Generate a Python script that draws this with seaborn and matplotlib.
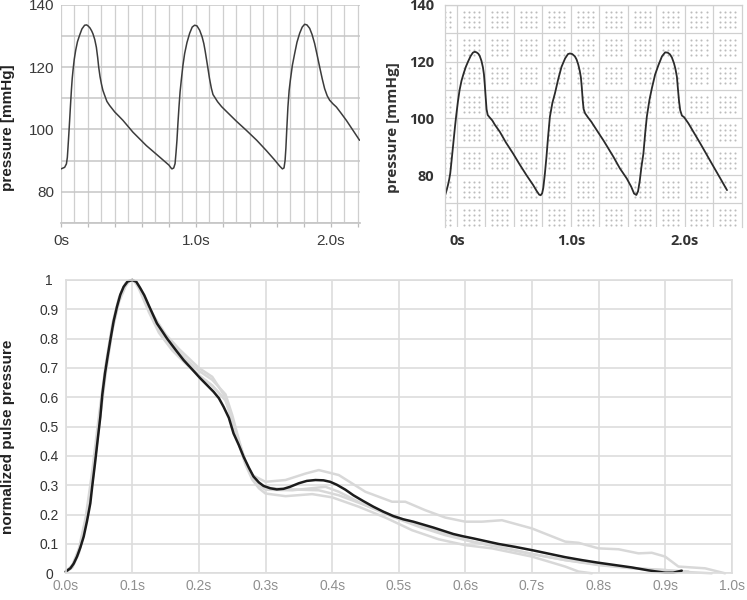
import numpy as np
import pandas as pd
import matplotlib.pyplot as plt
import seaborn as sns

# ---- datos ----
# panel arriba izquierda: presion arterial (s, mmHg)
left_t = [0.0, 0.027, 0.04, 0.047, 0.052, 0.058, 0.064, 0.07, 0.077, 0.083, 0.089, 0.098, 0.109,
          0.122, 0.138, 0.155, 0.175, 0.19, 0.2, 0.215, 0.228, 0.237, 0.25, 0.262, 0.272, 0.279,
          0.289, 0.299, 0.31, 0.323, 0.34, 0.36, 0.38, 0.398, 0.43, 0.459, 0.533, 0.632, 0.731,
          0.8, 0.815, 0.822,
          0.835, 0.845, 0.852, 0.859, 0.866, 0.874, 0.882, 0.891, 0.903, 0.916, 0.933, 0.953,
          0.972, 0.99, 1.007, 1.027, 1.045, 1.058, 1.068, 1.078, 1.089, 1.1, 1.114, 1.126, 1.138,
          1.16, 1.19, 1.225, 1.3, 1.373, 1.45, 1.521, 1.58, 1.62, 1.64,
          1.652, 1.66, 1.666, 1.672, 1.681, 1.69, 1.699, 1.714, 1.731, 1.748, 1.768, 1.787, 1.805,
          1.822, 1.842, 1.86, 1.879, 1.897, 1.916, 1.935, 1.953, 1.972, 1.99, 2.015, 2.04, 2.075,
          2.114, 2.16, 2.212]
left_p = [87.3, 87.8, 88.9, 91.0, 94.3, 98.5, 102.9, 107.5, 112.6, 116.3, 119.0, 122.5, 125.5,
          128.2, 130.3, 132.3, 133.5, 133.6, 133.3, 132.6, 131.6, 130.7, 128.9, 126.4, 123.0, 120.1,
          117.0, 114.7, 112.6, 111.0, 109.0, 107.7, 106.6, 105.6, 104.2, 102.9, 99.1, 94.8, 91.1,
          88.5, 87.6, 87.3,
          87.6, 89.0, 92.5, 96.5, 101.8, 107.2, 112.0, 115.8, 120.5, 124.4, 127.9, 130.9,
          132.9, 133.5, 133.3, 131.9, 129.8, 127.6, 125.2, 122.5, 119.5, 116.4, 113.2, 111.2, 110.4,
          108.9, 107.3, 105.8, 102.6, 99.7, 96.5, 93.2, 90.3, 88.2, 87.3,
          87.6, 90.0, 94.0, 99.5, 107.2, 112.5, 115.8, 120.6, 124.4, 128.0, 130.9, 132.9, 133.8,
          133.6, 132.5, 130.5, 127.6, 124.0, 120.1, 116.3, 113.1, 110.8, 109.4, 108.2, 107.2, 105.2,
          102.9, 99.9, 96.5]

# panel arriba derecha
right_t = [-0.103, -0.09, -0.079, -0.068, -0.059, -0.045, -0.029, -0.017, -0.006, 0.008, 0.023,
           0.04, 0.059, 0.078, 0.097, 0.12, 0.14, 0.156, 0.172, 0.188, 0.2, 0.215, 0.228, 0.237,
           0.245, 0.252, 0.26, 0.27, 0.288, 0.31, 0.332, 0.376, 0.43, 0.493, 0.55, 0.61, 0.669,
           0.7, 0.722, 0.735,
           0.748, 0.758, 0.772, 0.786, 0.8, 0.816, 0.838, 0.86, 0.89, 0.918, 0.95, 0.975, 0.992,
           1.012, 1.035, 1.05, 1.065, 1.078, 1.088, 1.096, 1.104, 1.112, 1.125, 1.153, 1.18, 1.212,
           1.29, 1.373, 1.43, 1.491, 1.53, 1.555, 1.575,
           1.59, 1.605, 1.62, 1.637, 1.652, 1.667, 1.69, 1.711, 1.74, 1.769, 1.8, 1.828, 1.85,
           1.87, 1.887, 1.905, 1.918, 1.931, 1.94, 1.95, 1.96, 1.975, 1.995, 2.033, 2.08, 2.136,
           2.2, 2.254, 2.31, 2.371]
right_p = [73.0, 74.8, 76.5, 78.5, 80.6, 86.0, 92.4, 97.2, 101.2, 105.8, 110.0,
           113.3, 115.9, 118.2, 120.0, 122.0, 123.2, 123.5, 123.3, 122.8, 122.0, 120.3, 118.0, 115.5,
           111.5, 107.5, 103.2, 101.2, 100.3, 99.3, 97.8, 95.3, 91.5, 87.6, 83.8, 80.0, 76.5,
           74.4, 73.1, 72.9,
           73.6, 75.5, 80.5, 86.5, 93.5, 100.6, 105.5, 108.8, 114.0, 118.2, 121.2, 122.7, 122.9,
           122.7, 121.9, 120.8, 119.0, 116.8, 114.5, 111.0, 106.5, 103.3, 101.8, 100.2, 98.8, 96.8,
           92.0, 86.5, 82.4, 78.8, 75.9, 73.5, 73.0,
           74.3, 78.0, 83.0, 87.6, 94.5, 100.6, 106.5, 110.6, 115.5, 118.8, 121.9, 123.3, 123.2,
           122.6, 121.5, 119.5, 117.5, 114.7, 110.5, 106.0, 102.9, 101.0, 100.4, 98.2, 95.0, 91.2,
           86.7, 82.9, 79.0, 74.7]

# panel inferior: presion de pulso normalizada
black_t = [0.0, 0.007, 0.012, 0.017, 0.022, 0.027, 0.032, 0.037, 0.04, 0.044, 0.048, 0.052, 0.055,
           0.059, 0.063, 0.067, 0.072, 0.077, 0.082, 0.087, 0.093, 0.1, 0.106, 0.112, 0.118, 0.125,
           0.137, 0.145, 0.152, 0.165, 0.177, 0.19, 0.202, 0.212, 0.222, 0.23, 0.237, 0.245, 0.252,
           0.26, 0.267, 0.275, 0.282, 0.29, 0.297, 0.307, 0.317, 0.327, 0.337, 0.35, 0.362, 0.375,
           0.387, 0.397, 0.407, 0.42, 0.432, 0.447, 0.462, 0.477, 0.492, 0.507, 0.522, 0.537,
           0.552, 0.567, 0.582, 0.597, 0.612, 0.63, 0.65, 0.675, 0.7, 0.725, 0.75, 0.775, 0.8,
           0.825, 0.85, 0.875, 0.9, 0.912, 0.925]
black_v = [0.006, 0.017, 0.033, 0.057, 0.088, 0.125, 0.178, 0.239, 0.3, 0.375, 0.455, 0.534,
           0.61, 0.682, 0.74, 0.795, 0.86, 0.909, 0.95, 0.977, 0.995, 1.0, 0.994, 0.972, 0.948,
           0.912, 0.852, 0.825, 0.801, 0.762, 0.727, 0.695, 0.665, 0.642, 0.619, 0.597, 0.568, 0.53,
           0.477, 0.437, 0.398, 0.36, 0.33, 0.31, 0.298, 0.29, 0.286, 0.288, 0.295, 0.307, 0.315,
           0.318, 0.317, 0.312, 0.302, 0.285, 0.266, 0.246, 0.227, 0.21, 0.195, 0.184, 0.176,
           0.166, 0.156, 0.145, 0.134, 0.126, 0.119, 0.11, 0.1, 0.09, 0.079, 0.067, 0.055, 0.045,
           0.036, 0.028, 0.02, 0.01, 0.002, 0.002, 0.009]

g1_t = [0.0, 0.01, 0.02, 0.03, 0.04, 0.05, 0.06, 0.07, 0.08, 0.09, 0.095, 0.1, 0.105, 0.11, 0.13,
        0.15, 0.17, 0.2, 0.22, 0.24, 0.25, 0.26, 0.27, 0.28, 0.3, 0.33, 0.36, 0.38, 0.41, 0.45,
        0.49, 0.51, 0.54, 0.57, 0.6, 0.625, 0.655, 0.7, 0.75, 0.77, 0.8, 0.83, 0.86, 0.88, 0.9,
        0.92, 0.96, 0.99]
g1_v = [0.004, 0.022, 0.075, 0.17, 0.31, 0.51, 0.69, 0.83, 0.925, 0.98, 0.995, 1.0, 0.993, 0.975,
        0.885, 0.815, 0.765, 0.7, 0.67, 0.6, 0.53, 0.45, 0.38, 0.335, 0.312, 0.318, 0.34,
        0.352, 0.335, 0.278, 0.244, 0.244, 0.215, 0.19, 0.176, 0.176, 0.181, 0.153, 0.108, 0.104,
        0.085, 0.082, 0.068, 0.07, 0.057, 0.023, 0.017, 0.0]

g2_t = [0.0, 0.01, 0.02, 0.03, 0.04, 0.05, 0.06, 0.07, 0.08, 0.09, 0.095, 0.1, 0.105, 0.11, 0.125,
        0.14, 0.16, 0.18, 0.2, 0.22, 0.24, 0.25, 0.26, 0.27, 0.28, 0.29, 0.3, 0.34, 0.39, 0.41,
        0.45, 0.49, 0.53, 0.57, 0.61, 0.64, 0.7, 0.75, 0.8, 0.85, 0.9, 0.935]
g2_v = [0.005, 0.025, 0.08, 0.18, 0.33, 0.52, 0.70, 0.84, 0.935, 0.985, 0.996, 1.0, 0.993, 0.975,
        0.9, 0.83, 0.77, 0.72, 0.675, 0.64, 0.59, 0.525, 0.445, 0.375, 0.33, 0.3, 0.285, 0.283,
        0.295, 0.278, 0.232, 0.193, 0.159, 0.13, 0.108, 0.096, 0.066, 0.045, 0.03, 0.018, 0.011,
        0.006]

g3_t = [0.0, 0.01, 0.02, 0.03, 0.04, 0.05, 0.06, 0.07, 0.08, 0.09, 0.095, 0.1, 0.105, 0.11, 0.125,
        0.14, 0.16, 0.18, 0.2, 0.22, 0.24, 0.25, 0.26, 0.27, 0.28, 0.29, 0.3, 0.33, 0.37, 0.4,
        0.44, 0.48, 0.52, 0.56, 0.6, 0.64, 0.7, 0.75, 0.77, 0.79]
g3_v = [0.004, 0.02, 0.07, 0.165, 0.31, 0.5, 0.68, 0.83, 0.93, 0.98, 0.995, 1.0, 0.99, 0.97, 0.89,
        0.82, 0.76, 0.715, 0.675, 0.64, 0.59, 0.52, 0.44, 0.37, 0.32, 0.29, 0.272, 0.263, 0.27,
        0.259, 0.227, 0.19, 0.147, 0.116, 0.096, 0.085, 0.057, 0.023, 0.006, 0.0]

g4_t = [0.0, 0.01, 0.02, 0.03, 0.04, 0.05, 0.06, 0.07, 0.08, 0.09, 0.095, 0.1, 0.105, 0.11, 0.125,
        0.14, 0.16, 0.18, 0.2, 0.22, 0.24, 0.25, 0.26, 0.27, 0.28, 0.29, 0.3, 0.34, 0.38, 0.41,
        0.45, 0.49, 0.53, 0.57, 0.61, 0.7, 0.75, 0.8, 0.85, 0.9, 0.92, 0.97]
g4_v = [0.006, 0.028, 0.085, 0.19, 0.35, 0.54, 0.71, 0.85, 0.94, 0.99, 0.998, 1.0, 0.995, 0.98,
        0.91, 0.84, 0.78, 0.73, 0.69, 0.66, 0.61, 0.54, 0.455, 0.38, 0.335, 0.305, 0.292, 0.286,
        0.283, 0.266, 0.232, 0.198, 0.164, 0.136, 0.108, 0.066, 0.045, 0.028, 0.017, 0.011, 0.006,
        0.0]

# ---- estilo ----
sns.set_theme(style="white")
plt.rcParams['font.family'] = ['Liberation Sans', 'DejaVu Sans']
plt.rcParams['lines.solid_joinstyle'] = 'round'

fig = plt.figure(figsize=(7.47, 6.0), dpi=100)
ax1 = fig.add_axes([61 / 747, 1 - 222.7 / 600, 299 / 747, 217.7 / 600])
ax2 = fig.add_axes([445 / 747, 1 - 227 / 600, 296.7 / 747, 222 / 600])
ax3 = fig.add_axes([65.7 / 747, 1 - 573.3 / 600, 666 / 747, 293.3 / 600])

# ---- arriba izquierda ----
sns.lineplot(x=left_t, y=left_p, ax=ax1, color='#3c3c3c', lw=1.1, sort=False, estimator=None)
ax1.set_xlim(0, 2.215)
ax1.set_ylim(70, 140)
xt = [0.0, 0.2, 0.4, 0.6, 0.8, 1.0, 1.2, 1.4, 1.6, 1.8, 2.0, 2.2]
ax1.set_xticks(xt)
ax1.set_xticklabels(['0s' if v == 0 else ('1.0s' if v == 1.0 else ('2.0s' if v == 2.0 else ''))
                     for v in xt])
ax1.set_xticks(np.arange(0.1, 2.2, 0.2), minor=True)
ax1.set_yticks([80, 100, 120, 140])
ax1.set_yticks([70, 90, 110, 130], minor=True)
ax1.set_axisbelow(True)
ax1.grid(True, which='both', axis='x', color='#cfcfcf', lw=0.9)
ax1.grid(True, which='both', axis='y', color='#c6c6c6', lw=1.1)
ax1.tick_params(axis='x', which='major', length=3, width=0.9, color='#bbbbbb', pad=5,
                labelsize=11, labelcolor='#3a3a3a', bottom=True)
ax1.tick_params(axis='x', which='minor', length=0)
ax1.tick_params(axis='y', which='both', length=0, pad=5, labelsize=11, labelcolor='#3a3a3a')
for s in ['top', 'right', 'left']:
    ax1.spines[s].set_visible(False)
ax1.spines['bottom'].set_color('#c6c6c6')
ax1.set_xlabel('')
ax1.set_ylabel('pressure [mmHg]', fontsize=11, fontweight='bold', color='#222222')
ax1.yaxis.set_label_coords(-0.154, 0.437)

# ---- arriba derecha (papel punteado) ----
x0, x1, y0, y1 = -0.105, 2.5, 61.7, 140
dx = np.array([-0.066, -0.022, 0.022, 0.066])
dy = np.array([-2.65, -0.88, 0.88, 2.65])
dot_x = (np.arange(-0.125, 2.5, 0.25)[:, None] + dx).ravel()
dot_y = (np.arange(55, 140, 10)[:, None] + dy).ravel()
dot_x = dot_x[(dot_x > x0) & (dot_x < x1)]
dot_y = dot_y[(dot_y > y0) & (dot_y < y1)]
gx, gy = np.meshgrid(dot_x, dot_y)
ax2.scatter(gx.ravel(), gy.ravel(), s=2.2, color='#bcbcbc', lw=0, zorder=0)
sns.lineplot(x=right_t, y=right_p, ax=ax2, color='#2b2b2b', lw=1.3, sort=False, estimator=None)
ax2.set_xlim(x0, x1)
ax2.set_ylim(y0, y1)
ax2.set_xticks([0, 1, 2])
ax2.set_xticklabels(['0s', '1.0s', '2.0s'])
ax2.set_xticks(np.arange(0.25, 2.5, 0.25), minor=True)
ax2.set_yticks([80, 100, 120, 140])
ax2.set_yticks([70, 90, 110, 130], minor=True)
ax2.set_axisbelow(True)
ax2.grid(True, which='both', color='#d0d0d0', lw=0.9)
ax2.tick_params(which='both', length=0)
ax2.tick_params(axis='x', pad=5)
ax2.tick_params(axis='y', pad=8)
for lab in ax2.get_xticklabels() + ax2.get_yticklabels():
    lab.set_family(['Open Sans', 'DejaVu Sans'])
    lab.set_fontweight('bold')
    lab.set_fontsize(10.5)
    lab.set_color('#333333')
for s in ['top', 'left', 'right']:
    ax2.spines[s].set_color('#d0d0d0')
    ax2.spines[s].set_linewidth(0.9)
ax2.spines['bottom'].set_visible(False)
ax2.set_xlabel('')
ax2.set_ylabel('pressure [mmHg]', fontsize=11, fontweight='bold', color='#333333',
               family=['Open Sans', 'DejaVu Sans'])
ax2.yaxis.set_label_coords(-0.152, 0.448)

# ---- inferior ----
greys = pd.concat([
    pd.DataFrame({'t': g1_t, 'v': g1_v, 'beat': 'g1'}),
    pd.DataFrame({'t': g2_t, 'v': g2_v, 'beat': 'g2'}),
    pd.DataFrame({'t': g3_t, 'v': g3_v, 'beat': 'g3'}),
    pd.DataFrame({'t': g4_t, 'v': g4_v, 'beat': 'g4'}),
])
sns.lineplot(data=greys, x='t', y='v', units='beat', estimator=None, color='#d8d8d8', lw=1.8,
             ax=ax3, clip_on=False)
sns.lineplot(x=black_t, y=black_v, ax=ax3, color='#1c1c1c', lw=1.8, estimator=None,
             clip_on=False)
ax3.set_xlim(0, 1.0)
ax3.set_ylim(0, 1.0)
bx = np.round(np.arange(0, 1.01, 0.1), 1)
ax3.set_xticks(bx)
ax3.set_xticklabels([f'{v:.1f}s' for v in bx])
ax3.set_yticks(bx)
ax3.set_yticklabels(['0', '0.1', '0.2', '0.3', '0.4', '0.5', '0.6', '0.7', '0.8', '0.9', '1'])
ax3.set_axisbelow(True)
ax3.grid(True, color='#dddddd', lw=1.2)
for s in ax3.spines.values():
    s.set_color('#dddddd')
    s.set_linewidth(1.2)
ax3.tick_params(which='both', length=0)
ax3.tick_params(axis='x', pad=4, labelsize=10, labelcolor='#8f8f8f')
ax3.tick_params(axis='y', pad=12, labelsize=10, labelcolor='#333333')
for lab in ax3.get_yticklabels():
    lab.set_horizontalalignment('center')
ax3.set_xlabel('')
ax3.set_ylabel('normalized pulse pressure', fontsize=11, fontweight='bold', color='#222222')
ax3.yaxis.set_label_coords(-0.076, 0.465)

fig.savefig('out.png', dpi=100)
